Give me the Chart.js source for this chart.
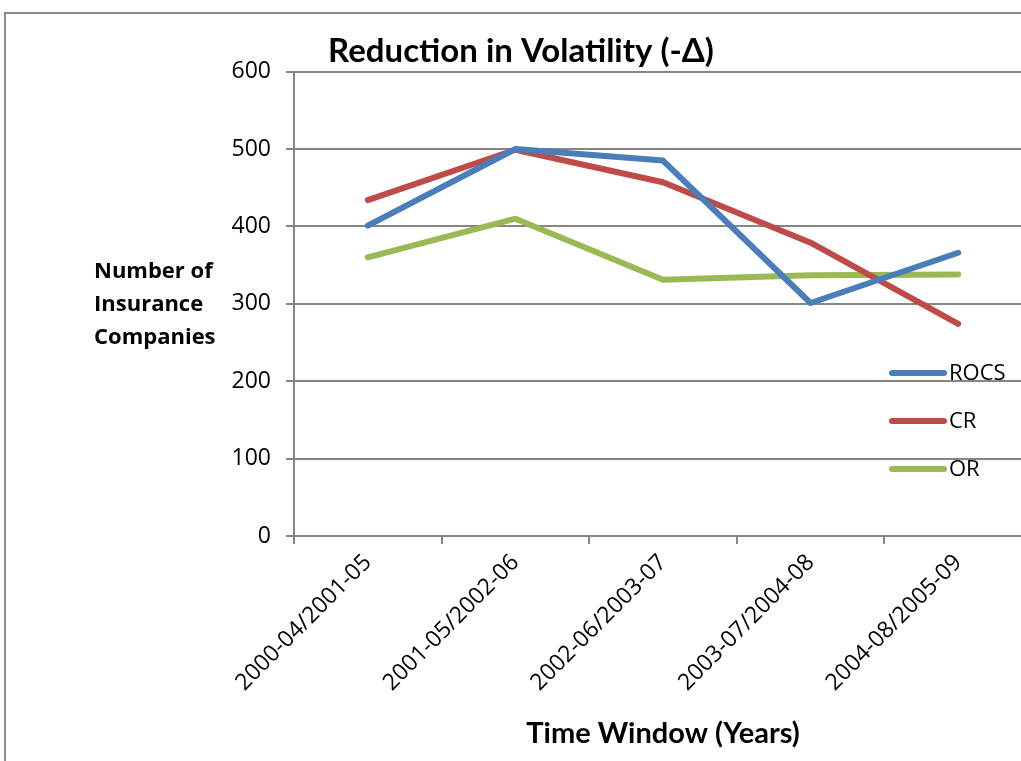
<!DOCTYPE html>
<html>
<head>
<meta charset="utf-8">
<script src="https://cdn.jsdelivr.net/npm/chart.js@4/dist/chart.umd.min.js"></script>
<style>
    html, body { margin: 0; padding: 0; background: #fff; overflow: hidden; }
    #wrap { position: relative; width: 1021px; height: 761px; overflow: hidden; }
    #frame { position: absolute; left: 4px; top: 12px; width: 1100px; height: 800px;
             border-top: 2px solid #8c8c8c; border-left: 2px solid #8c8c8c; }
    #volChart { position: absolute; left: 0; top: 0; }
</style>
</head>
<body>
<div id="wrap">
    <div id="frame"></div>
    <canvas id="volChart" width="1060" height="761"></canvas>
</div>
<script>
    'use strict';

    var windows = ["2000-04/2001-05", "2001-05/2002-06", "2002-06/2003-07", "2003-07/2004-08", "2004-08/2005-09"];
    var rocs = [401, 500, 485, 301, 366];
    var cr   = [434, 499, 457, 379, 274];
    var or   = [360, 410, 331, 337, 338];
    var yTicks = [0, 100, 200, 300, 400, 500, 600];
    var yTitleLines = ["Number of", "Insurance", "Companies"];

    var axisGray = '#868686';
    var tickFont = { family: 'Open Sans', size: 23 };

    // legend sits inside the plot on the right, drawn by hand
    var sideLegend = {
        id: 'sideLegend',
        afterDraw: function (chart) {
            var ctx = chart.ctx;
            ctx.save();
            ctx.font = '22px "Open Sans"';
            ctx.textBaseline = 'middle';
            ctx.textAlign = 'left';
            chart.data.datasets.forEach(function (ds, i) {
                var y = 373 + i * 48;
                ctx.strokeStyle = ds.borderColor;
                ctx.lineWidth = 6;
                ctx.lineCap = 'round';
                ctx.beginPath();
                ctx.moveTo(892, y);
                ctx.lineTo(944, y);
                ctx.stroke();
                ctx.fillStyle = '#000';
                ctx.fillText(ds.label, 949, y + 1);
            });
            // horizontal y axis title
            ctx.font = 'bold 22px "Open Sans"';
            yTitleLines.forEach(function (line, i) {
                ctx.fillText(line, 94, 272 + i * 33);
            });
            ctx.restore();
        }
    };

    var volChart = new Chart(document.getElementById('volChart'), {
        type: 'line',
        data: {
            labels: windows,
            datasets: [
                { label: 'ROCS', data: rocs, borderColor: '#4A7EBB' },
                { label: 'CR',   data: cr,   borderColor: '#BE4B48' },
                { label: 'OR',   data: or,   borderColor: '#98B954' }
            ]
        },
        options: {
            responsive: false,
            animation: false,
            layout: { padding: { left: 10, right: 28, top: 0, bottom: 0 } },
            elements: {
                line: { borderWidth: 6, tension: 0, borderJoinStyle: 'round', borderCapStyle: 'round', fill: false },
                point: { radius: 0 }
            },
            plugins: {
                legend: { display: false },
                tooltip: { enabled: false },
                title: {
                    display: true,
                    text: 'Reduction in Volatility (-\u0394)',
                    color: '#000',
                    font: { family: 'Lato', size: 33, weight: 'bold' },
                    padding: { top: 32, bottom: 0 }
                }
            },
            scales: {
                x: {
                    offset: true,
                    grid: { offset: true, drawOnChartArea: false, drawTicks: true, tickLength: 8, color: axisGray, lineWidth: 2 },
                    border: { color: axisGray, width: 2 },
                    ticks: { color: '#000', font: tickFont, minRotation: 45, maxRotation: 45, padding: 5 },
                    title: {
                        display: true,
                        text: 'Time Window (Years)',
                        color: '#000',
                        font: { family: 'Lato', size: 29, weight: 'bold' },
                        padding: { top: 0, bottom: 10 }
                    },
                    afterFit: function (scale) { scale.height = 225; }
                },
                y: {
                    min: 0,
                    max: 600,
                    afterBuildTicks: function (scale) {
                        scale.ticks = yTicks.map(function (v) { return { value: v }; });
                    },
                    grid: { color: axisGray, lineWidth: 2, tickLength: 8 },
                    border: { color: axisGray, width: 2 },
                    ticks: { color: '#000', font: tickFont, padding: 15 },
                    afterFit: function (scale) { scale.width = 284; }
                }
            }
        },
        plugins: [sideLegend]
    });
</script>
</body>
</html>
